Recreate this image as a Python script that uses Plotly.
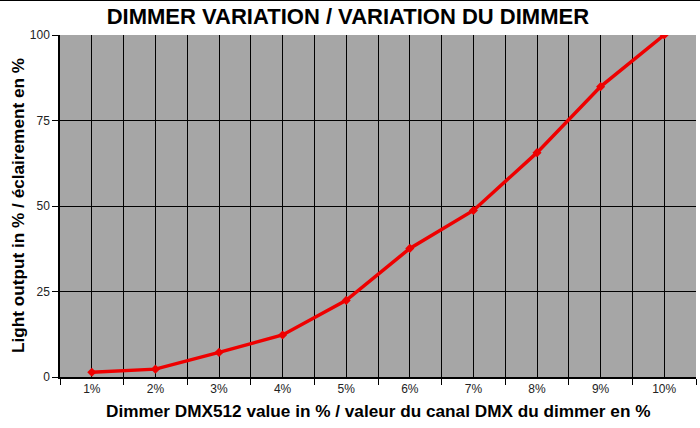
import plotly.graph_objects as go

dimmer_pct = [1, 2, 3, 4, 5, 6, 7, 8, 9, 10]
tick_labels = ["1%", "2%", "3%", "4%", "5%", "6%", "7%", "8%", "9%", "10%"]
light_output = [1.4, 2.3, 7.2, 12.3, 22.4, 37.6, 48.7, 65.6, 84.9, 100]
y_ticks = [0, 25, 50, 75, 100]

fig = go.Figure()
fig.add_trace(go.Scatter(
    x=dimmer_pct, y=light_output, mode="lines+markers",
    line=dict(color="#ee0000", width=3.5),
    marker=dict(symbol="diamond", size=7, color="#ee0000"),
    showlegend=False, hoverinfo="x+y",
))

fig.update_layout(
    width=700, height=428,
    margin=dict(l=60, r=4, t=35, b=51, autoexpand=False),
    paper_bgcolor="white",
    plot_bgcolor="#a6a6a6",
    font=dict(family="Liberation Sans, Arial, sans-serif", color="black"),
    title=dict(text="<b>DIMMER VARIATION / VARIATION DU DIMMER</b>",
               x=0.497, xanchor="center", yref="container", y=1 - 16 / 428,
               yanchor="middle", font=dict(size=22, color="black")),
    xaxis=dict(
        range=[0.5, 10.5], tickvals=dimmer_pct, ticktext=tick_labels,
        ticks="", showgrid=True, gridcolor="black", gridwidth=1,
        tickfont=dict(size=12, color="#222"), automargin=False,
        showline=True, linecolor="black", linewidth=1.5,
        zeroline=False,
        minor=dict(tickvals=[i + 0.5 for i in range(0, 11)], ticks="outside",
                   ticklen=6, tickcolor="black", showgrid=True,
                   gridcolor="black", gridwidth=1),
    ),
    yaxis=dict(
        range=[0, 100], tickvals=y_ticks,
        ticks="outside", ticklen=6, tickcolor="black",
        showgrid=True, gridcolor="black", gridwidth=1,
        tickfont=dict(size=12, color="#222"), automargin=False,
        showline=True, linecolor="black", linewidth=1.5,
        zeroline=False,
    ),
    annotations=[
        dict(text="<b>Dimmer DMX512 value in % / valeur du canal DMX du dimmer en %</b>",
             xref="paper", yref="paper", x=0.5, y=-(411 - 377) / 342,
             xanchor="center", yanchor="middle", showarrow=False,
             font=dict(size=17.2, color="black")),
        dict(text="<b>Light output in % / éclairement en %</b>",
             xref="paper", yref="paper", x=-(60 - 18) / 636, y=0.5,
             xanchor="center", yanchor="middle", showarrow=False, textangle=-90,
             font=dict(size=17.2, color="black")),
    ],
    shapes=[dict(type="line", xref="paper", yref="paper",
                 x0=-0.1, x1=1.01, y0=1.1023, y1=1.1023,
                 line=dict(color="black", width=2))],
)

fig.write_html(
    "out.html",
    config={"displayModeBar": False},
    post_script="document.body.style.margin='0';document.body.style.overflow='hidden';",
)
